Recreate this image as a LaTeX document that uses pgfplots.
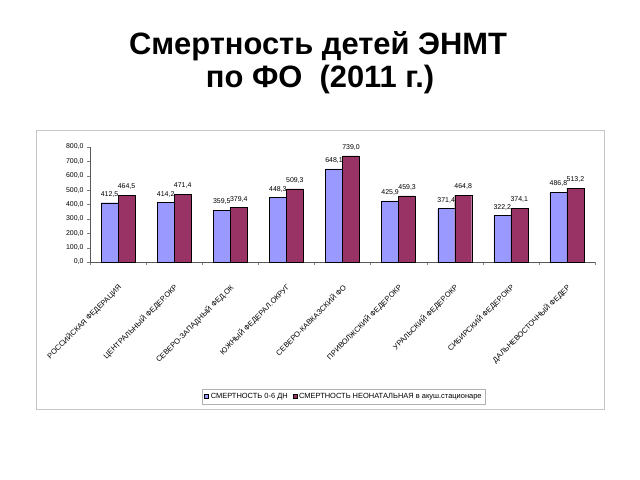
\documentclass[border=0pt]{standalone}
\usepackage{pgfplots}
\pgfplotsset{compat=1.18}
\usepackage{fontspec}
\setmainfont{Liberation Sans}
\definecolor{serA}{HTML}{9999FF}
\definecolor{serB}{HTML}{993366}
\begin{document}
\begin{tikzpicture}
\path[use as bounding box, fill=white] (0,0) rectangle (640bp,480bp);
% title
\node[anchor=base, font=\fontsize{31}{34}\selectfont\bfseries] at (318bp,425bp) {Смертность детей ЭНМТ};
\node[anchor=base, font=\fontsize{31}{34}\selectfont\bfseries] at (320bp,392bp) {по ФО\ \ (2011 г.)};
% chart frame
\draw[gray!45, line width=1bp] (36bp,70bp) rectangle (604bp,349bp);
\begin{axis}[
    at={(90bp,218bp)}, anchor=south west,
    scale only axis, width=505bp, height=115bp,
    xmin=-0.5, xmax=8.5, ymin=0, ymax=800,
    ybar=0pt, bar width=17bp,
    axis x line*=bottom, axis y line*=left,
    axis line style={gray!70!black, line width=0.5bp},
    ytick={0,100,...,800},
    yticklabel style={font=\fontsize{7}{8}\selectfont, /pgf/number format/.cd, fixed, fixed zerofill, precision=1, use comma, assume math mode=true},
    tick align=outside, tick pos=left,
    major tick length=3bp, minor tick length=3bp,
    xtick={0,...,8},
    major x tick style={draw=none},
    minor xtick={-0.5,0.5,...,8.5},
    xticklabels={РОССИЙСКАЯ ФЕДЕРАЦИЯ, ЦЕНТРАЛЬНЫЙ ФЕДЕР.ОКР, СЕВЕРО-ЗАПАДНЫЙ ФЕД.ОК, ЮЖНЫЙ ФЕДЕРАЛ.ОКРУГ, СЕВЕРО-КАВКАЗСКИЙ ФО, ПРИВОЛЖСКИЙ ФЕДЕР.ОКР, УРАЛЬСКИЙ ФЕДЕР.ОКР, СИБИРСКИЙ ФЕДЕР.ОКР, ДАЛЬНЕВОСТОЧНЫЙ ФЕДЕР},
    xticklabel style={font=\fontsize{7.5}{8}\selectfont, yshift=-21bp, xshift=2bp, rotate=45, anchor=east, inner sep=0pt},
    nodes near coords,
    every node near coord/.append style={font=\fontsize{7}{8}\selectfont, anchor=south, yshift=2bp, /pgf/number format/.cd, fixed, fixed zerofill, precision=1, use comma, assume math mode=true},
    legend style={at={(0.503,-1.17)}, anchor=center, draw=gray!60, font=\fontsize{7.5}{8}\selectfont, legend columns=2, inner sep=2bp, /tikz/every even column/.append style={column sep=3bp}},
    legend image code/.code={\draw[#1] (0bp,-2bp) rectangle (4bp,2bp);},
    clip=false,
]
\addplot[fill=serA, draw=black, line width=0.4bp] coordinates {
    (0,412.5) (1,414.2) (2,359.5) (3,448.3) (4,648.1) (5,425.9) (6,371.4) (7,322.2) (8,486.8)
};
\addplot[fill=serB, draw=black, line width=0.4bp] coordinates {
    (0,464.5) (1,471.4) (2,379.4) (3,509.3) (4,739.0) (5,459.3) (6,464.8) (7,374.1) (8,513.2)
};
\legend{СМЕРТНОСТЬ 0-6 ДН, СМЕРТНОСТЬ НЕОНАТАЛЬНАЯ в акуш.стационаре}
\end{axis}
\end{tikzpicture}
\end{document}
